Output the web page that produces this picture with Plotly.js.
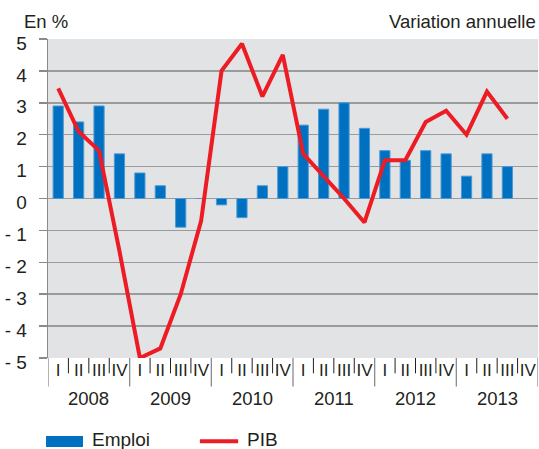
<!DOCTYPE html>
<html>
<head>
<meta charset="utf-8">
<script src="https://cdn.plot.ly/plotly-3.0.1.min.js"></script>
<style>
html,body{margin:0;padding:0;background:#fff;}
#chart{width:539px;height:449px;}
</style>
</head>
<body>
<div id="chart"></div>
<script>
const years = ['2008', '2009', '2010', '2011', '2012', '2013'];
const quarters = ['I', 'II', 'III', 'IV'];
const yTickValues = [-5, -4, -3, -2, -1, 0, 1, 2, 3, 4, 5];
const yTickLabels = ['- 5', '- 4', '- 3', '- 2', '- 1', '0', '1', '2', '3', '4', '5'];
const seriesNames = ['Emploi', 'PIB'];
// Emploi: quarterly, 2008 Q1 .. 2013 Q4
const emploi = [2.9, 2.4, 2.9, 1.4, 0.8, 0.4, -0.9, 0.0, -0.2, -0.6, 0.4, 1.0,
                2.3, 2.8, 3.0, 2.2, 1.5, 1.2, 1.5, 1.4, 0.7, 1.4, 1.0, null];
// PIB: quarterly, 2008 Q1 .. 2013 Q4
const pib = [3.45, 2.1, 1.5, -1.65, -5.0, -4.7, -3.0, -0.7, 4.0, 4.85, 3.2, 4.5,
             1.4, 0.72, 0.0, -0.75, 1.2, 1.2, 2.4, 2.75, 2.0, 3.35, 2.5, null];

const idx = [];
const qLabels = [];
years.forEach((y, yi) => quarters.forEach((q, qi) => { idx.push(yi * 4 + qi); qLabels.push(q); }));

const font = 'Liberation Sans, Arial, Helvetica, sans-serif';
const textColor = '#231f20';
const axisGray = '#8a8a8a';
const blue = '#0070c0';
const red = '#ed1c24';

const traces = [
  {
    type: 'bar', name: seriesNames[0], x: idx, y: emploi,
    width: 0.5,
    marker: {color: blue, line: {color: '#4b9ad6', width: 1}},
    showlegend: false, hoverinfo: 'x+y'
  },
  {
    type: 'scatter', mode: 'lines', name: seriesNames[1], x: idx, y: pib,
    line: {color: red, width: 4, shape: 'linear'},
    connectgaps: false, showlegend: false, hoverinfo: 'x+y'
  }
];

const shapes = [];
const nQ = idx.length;
for (let b = 0; b <= nQ; b++) {
  const isYear = (b % 4 === 0);
  shapes.push({
    type: 'line', xref: 'x', yref: 'paper',
    x0: b - 0.5, x1: b - 0.5, y0: 0, y1: isYear ? -0.089 : -0.048,
    line: {color: isYear ? axisGray : '#231f20', width: isYear ? 1.3 : 1}
  });
}
shapes.push({type: 'rect', xref: 'paper', yref: 'paper', x0: -0.004, x1: 0.0714, y0: -0.2445, y1: -0.279,
             fillcolor: blue, line: {width: 0}});
shapes.push({type: 'line', xref: 'paper', yref: 'paper', x0: 0.310, x1: 0.388, y0: -0.261, y1: -0.261,
             line: {color: red, width: 4}});

const annotations = [];
years.forEach((y, yi) => {
  annotations.push({
    text: y, xref: 'x', yref: 'paper', x: yi * 4 + 1.5, y: -0.126,
    xanchor: 'center', yanchor: 'middle', showarrow: false,
    font: {family: font, size: 18.5, color: textColor}
  });
});
annotations.push({text: 'En %', xref: 'paper', yref: 'paper', x: -0.053, y: 1.055,
  xanchor: 'left', yanchor: 'middle', showarrow: false, font: {family: font, size: 18.5, color: textColor}});
annotations.push({text: 'Variation annuelle', xref: 'paper', yref: 'paper', x: 1.0, y: 1.055,
  xanchor: 'right', yanchor: 'middle', showarrow: false, font: {family: font, size: 18.5, color: textColor}});
annotations.push({text: seriesNames[0], xref: 'paper', yref: 'paper', x: 0.0857, y: -0.257,
  xanchor: 'left', yanchor: 'middle', showarrow: false, font: {family: font, size: 19, color: textColor}});
annotations.push({text: seriesNames[1], xref: 'paper', yref: 'paper', x: 0.402, y: -0.257,
  xanchor: 'left', yanchor: 'middle', showarrow: false, font: {family: font, size: 19, color: textColor}});

const layout = {
  width: 539, height: 449,
  margin: {l: 48, r: 1, t: 39, b: 91, pad: 0},
  paper_bgcolor: '#ffffff',
  plot_bgcolor: '#e2e3e5',
  font: {family: font, color: textColor},
  bargap: 0,
  xaxis: {
    range: [-0.5, nQ - 0.5],
    tickmode: 'array', tickvals: idx, ticktext: qLabels,
    ticks: '', showgrid: false, zeroline: false, showline: false,
    tickfont: {family: font, size: 17, color: textColor},
    fixedrange: true
  },
  yaxis: {
    range: [-5, 5],
    tickmode: 'array', tickvals: yTickValues, ticktext: yTickLabels,
    ticks: 'outside', ticklen: 8, tickcolor: axisGray, tickwidth: 1.5,
    ticklabelstandoff: 8,
    ticklabelshift: 4,
    showgrid: true, gridcolor: '#9b9b9b', gridwidth: 1.5,
    zeroline: true, zerolinecolor: '#9b9b9b', zerolinewidth: 1.5,
    showline: true, linecolor: axisGray, linewidth: 1.3,
    tickfont: {family: font, size: 19, color: textColor},
    fixedrange: true
  },
  shapes: shapes,
  annotations: annotations,
  showlegend: false
};

Plotly.newPlot('chart', traces, layout, {displayModeBar: false, staticPlot: true});
</script>
</body>
</html>
